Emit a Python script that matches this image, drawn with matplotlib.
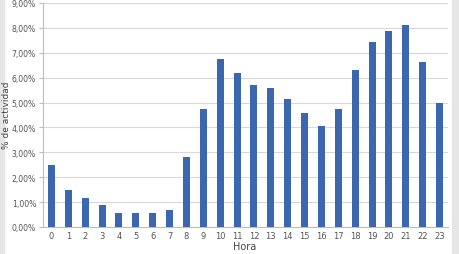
import numpy as np
import matplotlib.pyplot as plt
from matplotlib.ticker import FuncFormatter

hours = list(range(24))
activity = [2.50, 1.48, 1.18, 0.90, 0.55, 0.55, 0.58, 0.68, 2.80, 4.75,
            6.75, 6.20, 5.70, 5.60, 5.15, 4.57, 4.07, 4.75, 6.30, 7.42,
            7.88, 8.12, 6.62, 4.98]

fig = plt.figure(figsize=(4.6, 2.55), dpi=100)
# light grey strips at the edges of the picture
fig.patches.append(plt.Rectangle((0, 0), 4 / 460, 1, transform=fig.transFigure,
                                 color='#e6e6e6', zorder=0))
fig.patches.append(plt.Rectangle((452 / 460, 0), 8 / 460, 1, transform=fig.transFigure,
                                 color='#e6e6e6', zorder=0))

ax = fig.add_axes([43 / 460, 27 / 255, 405 / 460, 224 / 255])
ax.bar(hours, activity, width=0.42, color='#3a67b0', zorder=3)

ax.set_xlim(-0.5, 23.5)
ax.set_ylim(0, 9)
ax.set_yticks(np.arange(0, 10, 1))
ax.yaxis.set_major_formatter(FuncFormatter(lambda v, p: f'{v:.2f}%'.replace('.', ',')))
ax.set_xticks(hours)

ax.grid(axis='y', color='#d8d8d8', linewidth=0.8, zorder=0)
for s in ['top', 'right']:
    ax.spines[s].set_visible(False)
ax.spines['left'].set_color('#bdbdbd')
ax.spines['bottom'].set_color('#bdbdbd')
ax.tick_params(axis='y', length=3, color='#bdbdbd', labelsize=5.6, labelcolor='#555555', pad=2)
ax.tick_params(axis='x', length=0, labelsize=6, labelcolor='#555555', pad=3)

fig.text(245 / 460, 1 - 247 / 255, 'Hora', ha='center', va='center',
         fontsize=7, color='#444444')
fig.text(7 / 460, 1 - 115 / 255, '% de actividad', ha='center', va='center',
         rotation=90, fontsize=6.5, color='#444444')

fig.savefig('out.png', dpi=100)
